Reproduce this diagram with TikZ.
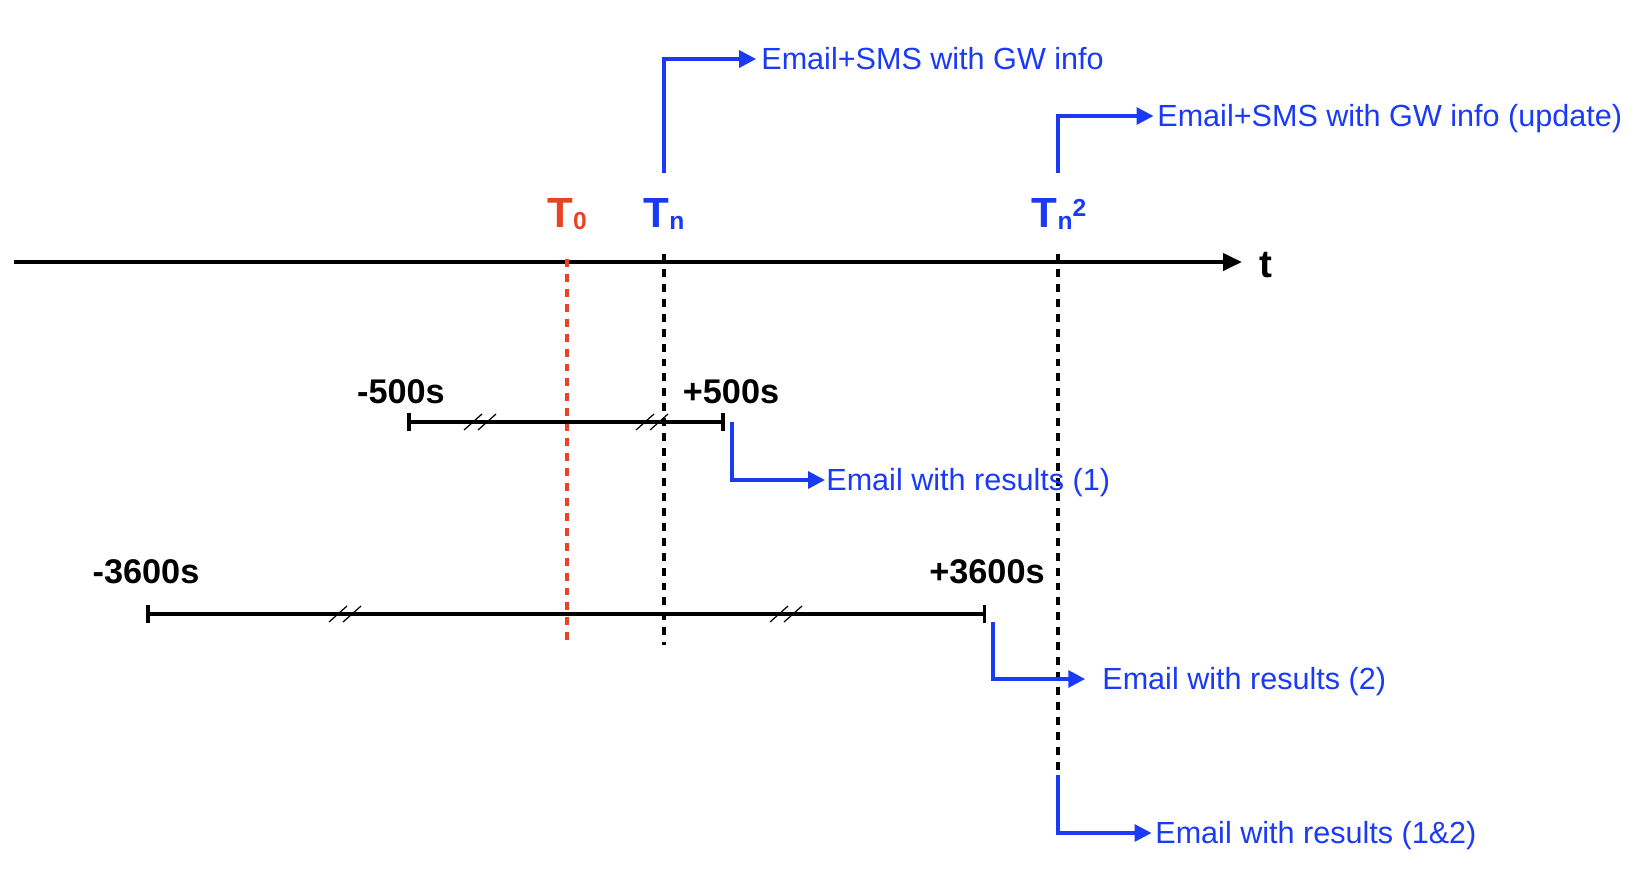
\documentclass[tikz,border=0pt]{standalone}
\usepackage{fontspec}
\setmainfont{Liberation Sans}
\usetikzlibrary{arrows.meta}
\definecolor{mailblue}{RGB}{27,58,245}
\definecolor{tzero}{RGB}{233,67,38}
\def\tsub#1{\raisebox{-1.2pt}{\fontsize{14}{14}\selectfont #1}}
\def\tsup#1{\raisebox{6.2pt}{\fontsize{14}{14}\selectfont #1}}
\def\hatch(#1,#2){\draw[line width=0.7pt] (#1,#2) ++(-16,8) -- ++(18,-16) (#1,#2) ++(-2,8) -- ++(18,-16);}

\begin{document}
\begin{tikzpicture}[x=0.02cm, y=-0.02cm,
		axisline/.style={line width=2.4pt, -{Triangle[length=10.8pt,width=9.6pt]}},
		spanline/.style={line width=2pt, {Bar[width=10pt]}-{Bar[width=10pt]}},
		dashline/.style={line width=1.8pt, dash pattern=on 4.5pt off 4pt},
		mail/.style={draw=mailblue, line width=1.9pt, -{Triangle[length=9.6pt,width=9.6pt]}, shorten >=2pt},
		maillbl/.style={text=mailblue, font=\fontsize{17.4}{20}\selectfont, inner sep=0pt, text height=12.4pt, text depth=0pt, anchor=west},
		tlbl/.style={font=\bfseries\fontsize{24}{28}\selectfont, inner sep=0pt, anchor=base},
		seclbl/.style={font=\bfseries\fontsize{19.5}{22}\selectfont, inner sep=0pt, anchor=base}]
			%%%%% START %%%%%
			
			\useasboundingbox (0, 0) rectangle (1648, 876);
			
			% time axis
			\draw[axisline] (14, 262) -- (1242, 262);
			\node[font=\bfseries\fontsize{22}{24}\selectfont, inner sep=0pt, anchor=base] (taxis) at (1266, 277) {t};
			
			\coordinate (t0) at (567, 259);
			\coordinate (tn) at (664, 254);
			\coordinate (tn2) at (1058, 254);
			
			\node[tlbl, text=tzero] (lt0) at (567, 227) {T\tsub{0}};
			\node[tlbl, text=mailblue] (ltn) at (664, 227) {T\tsub{n}};
			\node[tlbl, text=mailblue] (ltn2) at (1059, 227) {T\tsub{n}\tsup{2}};
			
			\draw[dashline, tzero] (t0) -- (567, 645);
			\draw[dashline] (tn) -- (664, 645);
			\draw[dashline] (tn2) -- (1058, 782);
			
			% short window
			\coordinate (s500a) at (407, 422);
			\coordinate (s500b) at (725, 422);
			\draw[spanline] (s500a) -- (s500b);
			\hatch(480,422)
			\hatch(652,422)
			\node[seclbl] (m500) at (401, 403) {-500s};
			\node[seclbl] (p500) at (731, 403) {+500s};
			
			% long window
			\coordinate (s3600a) at (146, 614);
			\coordinate (s3600b) at (986, 614);
			\draw[spanline] (s3600a) -- (s3600b);
			\hatch(345,614)
			\hatch(786,614)
			\node[seclbl] (m3600) at (146, 583) {-3600s};
			\node[seclbl] (p3600) at (987, 583) {+3600s};
			
			% messages
			\node[maillbl] (gwinfo) at (761, 59) {Email+SMS with GW info};
			\node[maillbl] (gwupd) at (1157, 116) {Email+SMS with GW info (update)};
			\node[maillbl] (res1) at (826, 480) {Email with results (1)};
			\node[maillbl] (res2) at (1102, 679) {Email with results (2)};
			\node[maillbl] (res12) at (1155, 833) {Email with results (1\&2)};
			
			\coordinate (tnup) at (664, 173);
			\coordinate (tn2up) at (1058, 173);
			\coordinate (p500dn) at (732, 422);
			\coordinate (p3600dn) at (993, 622);
			\coordinate (tn2dn) at (1058, 775);
			
			\draw[mail, shorten >=2.8pt] (tnup) |- (gwinfo.west);
			\draw[mail] (tn2up) |- (gwupd.west);
			\draw[mail, shorten >=0.6pt] (p500dn) |- (res1.west);
			\draw[mail, shorten >=9.6pt] (p3600dn) |- (res2.west);
			\draw[mail] (tn2dn) |- (res12.west);
			
			%%%%% END %%%%%
		\end{tikzpicture}
\end{document}
